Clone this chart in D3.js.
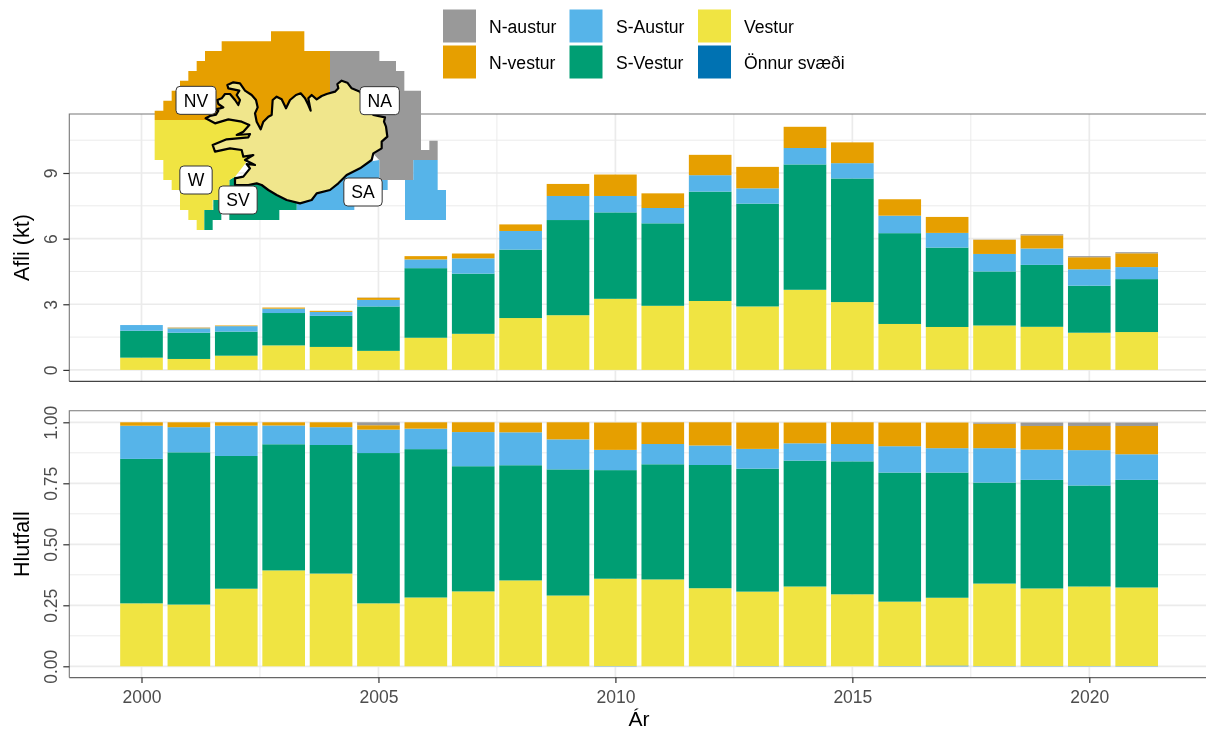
<!DOCTYPE html>
<html><head><meta charset="utf-8">
<script src="https://cdn.jsdelivr.net/npm/d3@7"></script>
<style>html,body{margin:0;padding:0;background:#fff}svg{display:block;filter:blur(0.35px)}text{font-family:"Liberation Sans",Arial,sans-serif}</style>
</head><body><svg id="c" width="1206" height="731"></svg>
<script>
const years = d3.range(2000, 2022);
const regions = ["N-austur","N-vestur","S-Austur","S-Vestur","Vestur","Önnur svæði"];
const colors = ["#999999","#E69F00","#56B4E9","#009E73","#F0E442","#0072B2"];

// Catch (kt)
const kOnnur  = [0,0,0,0,0,0,0,0,0,0,0,0,0,0,0.012,0,0,0.012,0,0,0,0];
const kVestur = [.56,.5,.65,1.12,1.05,.87,1.47,1.65,2.37,2.5,3.25,2.93,3.15,2.9,3.65,3.1,2.1,1.95,2.03,1.97,1.7,1.73];
const kSVestur= [1.23,1.2,1.1,1.48,1.42,2.03,3.18,2.75,3.13,4.35,3.95,3.77,5.0,4.7,5.73,5.65,4.15,3.63,2.47,2.83,2.15,2.42];
const kSAustur= [.26,.2,.25,.2,.18,.3,.4,.7,.85,1.1,.75,.7,.75,.7,.75,.7,.8,.67,.8,.75,.75,.55];
const kNVestur= [0,.03,.03,.05,.05,.1,.15,.22,.3,.55,.98,.67,.93,.98,.97,.95,.75,.73,.65,.6,.55,.63];
const kNAustur= [0,.01,0,0,0,.01,0,0,0,0,0,0,0,0,0,0,0,0,.01,.05,.05,.05];

// Share of total
const pOnnur  = [0,0,0,0,0,0,0,0,.001,0,.001,0,0,.001,.001,0,.001,.003,.001,.001,.001,.001];
const pVestur = [.258,.253,.318,.393,.38,.258,.282,.307,.351,.29,.358,.356,.32,.305,.326,.295,.264,.278,.338,.318,.326,.322];
const pSVestur= [.592,.624,.544,.517,.527,.616,.608,.513,.472,.517,.445,.472,.505,.504,.516,.545,.529,.513,.414,.445,.414,.441];
const pSAustur= [.136,.103,.124,.077,.073,.096,.084,.14,.135,.123,.083,.083,.08,.081,.071,.071,.108,.10,.141,.124,.145,.105];
const pNVestur= [.014,.02,.014,.013,.02,.018,.026,.04,.04,.07,.112,.089,.095,.108,.085,.089,.097,.105,.10,.097,.099,.116];
const pNAustur= [0,0,0,0,0,.012,0,0,0,0,0,0,0,0,0,0,0,0,.005,.014,.014,.014];

const xTicks = [2000,2005,2010,2015,2020];
const xMinor = [2002.5,2007.5,2012.5,2017.5];
const kTicks = [0,3,6,9], kMinor=[1.5,4.5,7.5,10.5];
const pTicks = [0,.25,.5,.75,1], pMinor=[.125,.375,.625,.875];

// Inset map outlines (map units)
const mapNV=[[44,300],[44,272],[70,272],[70,242],[95,242],[95,212],[120,212],[120,182],[145,182],[145,153],[170,153],[170,123],[195,123],[195,93],[245,93],[245,64],[393,64],[393,34],[493,34],[493,93],[570,93],[570,230],[360,340],[330,300]];
const mapNA=[[570,93],[718,93],[718,123],[768,123],[768,153],[793,153],[793,212],[843,212],[843,390],[868,390],[868,362],[893,362],[893,420],[820,420],[820,480],[718,480],[718,420],[600,300],[570,215]];
const mapSA1=[[718,420],[718,480],[743,480],[743,510],[720,510],[720,540],[643,540],[643,570],[470,570],[470,520],[600,440]];
const mapSA2=[[820,420],[893,420],[893,510],[918,510],[918,600],[795,600],[795,480],[820,480]];
const mapSV1=[[268,480],[268,600],[418,600],[418,570],[470,570],[470,530],[360,480],[285,470]];
const mapSV2=[[220,540],[244,540],[244,600],[218,600],[218,630],[193,630],[193,570],[220,570]];
const mapW=[[44,300],[44,420],[70,420],[70,480],[95,480],[95,510],[120,510],[120,570],[145,570],[145,600],[170,600],[170,630],[193,630],[193,570],[218,570],[218,540],[240,540],[268,510],[268,480],[285,470],[340,400],[330,300]];
const coast=[[197,295],[210,288],[228,284],[235,272],[225,268],[240,265],[250,262],[235,252],[232,240],[245,235],[255,222],[270,222],[285,240],[295,255],[300,240],[290,225],[298,212],[280,208],[265,205],[262,195],[280,187],[300,190],[315,212],[335,225],[348,240],[353,262],[345,280],[350,305],[362,328],[370,305],[385,290],[395,285],[398,240],[410,230],[425,238],[438,265],[450,240],[468,225],[482,220],[495,235],[505,255],[512,272],[505,235],[515,225],[530,238],[545,228],[560,222],[585,215],[595,205],[592,192],[605,182],[622,188],[635,205],[660,215],[700,285],[735,292],[732,305],[738,320],[742,350],[725,365],[725,385],[700,400],[695,420],[660,445],[620,465],[595,490],[570,510],[530,520],[515,540],[480,550],[440,540],[410,525],[385,510],[365,495],[350,490],[325,495],[285,495],[285,475],[310,470],[330,445],[320,432],[345,435],[315,420],[340,405],[310,410],[305,390],[270,385],[225,395],[218,375],[260,358],[325,352],[330,342],[290,345],[310,335],[328,315],[305,305],[265,298],[225,310]];
const mapLabels=[["NV",168,241,120],["NA",719,242,118],["W",168,480,97],["SV",294,540,115],["SA",669,516,115]];

const svg=d3.select("#c");
const x=d3.scaleLinear().domain([2000,2020]).range([141.5,1089.3]);
const bw=x(2000.9)-x(2000);
const panelL=69.3, panelR=1206;
const tickFont="17.5px";

function panel(top,bot,y,ticks,minor,fmt,title,rows,bottomStroke,bottomWidth){
  const g=svg.append("g");
  const grid=(vals,w,horizontal)=>g.append("g").selectAll("line").data(vals).join("line")
    .attr("x1",d=>horizontal?panelL:x(d)).attr("x2",d=>horizontal?panelR:x(d))
    .attr("y1",d=>horizontal?y(d):top).attr("y2",d=>horizontal?y(d):bot)
    .attr("stroke","#EBEBEB").attr("stroke-width",w);
  grid(minor,1,true);grid(xMinor,1,false);grid(ticks,1.7,true);grid(xTicks,1.7,false);
  const table=years.map((yr,i)=>{const o={year:yr};regions.forEach((r,j)=>o[r]=rows[j][i]);return o;});
  const stacked=d3.stack().keys(regions.slice().reverse())(table);
  g.append("g").selectAll("g").data(stacked).join("g").attr("fill",d=>colors[regions.indexOf(d.key)])
    .selectAll("rect").data(d=>d).join("rect")
    .attr("x",d=>x(d.data.year)-bw/2).attr("width",bw)
    .attr("y",d=>y(d[1])).attr("height",d=>Math.max(0,y(d[0])-y(d[1])));
  g.append("path").attr("d",`M${panelL},${bot}V${top}H${panelR}`).attr("fill","none").attr("stroke","#777").attr("stroke-width",1.1);
  g.append("line").attr("x1",panelL).attr("x2",panelR).attr("y1",bot).attr("y2",bot).attr("stroke",bottomStroke).attr("stroke-width",bottomWidth);
  const a=g.append("g").attr("transform",`translate(${panelL},0)`).call(d3.axisLeft(y).tickValues(ticks).tickFormat(fmt).tickSize(6));
  a.select(".domain").remove();
  a.selectAll("line").attr("stroke","#333").attr("stroke-width",1.2);
  a.selectAll("text").attr("fill","#4D4D4D").style("font-size",tickFont).attr("text-anchor","middle")
    .attr("x",null).attr("dy",null).attr("y",null)
    .attr("transform","translate(-19,0) rotate(-90)").attr("dy","0.36em");
  svg.append("text").attr("transform",`translate(29,${(top+bot)/2}) rotate(-90)`).attr("text-anchor","middle").style("font-size","21.5px").attr("fill","#000").text(title);
}

panel(114,381.3,d3.scaleLinear().domain([0,9]).range([369.9,173]),kTicks,kMinor,d3.format("d"),"Afli (kt)",[kNAustur,kNVestur,kSAustur,kSVestur,kVestur,kOnnur],"#444",1.3);
panel(410.8,677.6,d3.scaleLinear().domain([0,1]).range([666.3,422.3]),pTicks,pMinor,d3.format(".2f"),"Hlutfall",[pNAustur,pNVestur,pSAustur,pSVestur,pVestur,pOnnur],"#666",1.2);

// X axis
const xa=svg.append("g").attr("transform","translate(0,677.6)").call(d3.axisBottom(x).tickValues(xTicks).tickFormat(d3.format("d")).tickSize(5.5).tickPadding(7));
xa.select(".domain").remove();
xa.selectAll("line").attr("stroke","#333").attr("stroke-width",1.2);
xa.selectAll("text").attr("fill","#4D4D4D").style("font-size",tickFont);
svg.append("text").attr("x",639).attr("y",726).attr("text-anchor","middle").style("font-size","21px").attr("fill","#000").text("Ár");

// Legend
const legendCols=[[0,1],[2,3],[4,5]], legX=[443,569.5,698], legTX=[489,616,744], legY=[9.5,45.5];
legendCols.forEach((col,c)=>col.forEach((idx,r)=>{
  svg.append("rect").attr("x",legX[c]).attr("y",legY[r]).attr("width",33).attr("height",33).attr("fill",colors[idx]);
  svg.append("text").attr("x",legTX[c]).attr("y",legY[r]+17).attr("dy","0.36em").style("font-size","17.6px").attr("fill","#000").text(regions[idx]);
}));

// Inset map
const mx=d3.scaleLinear().domain([0,960]).range([140,460]);
const my=d3.scaleLinear().domain([0,660]).range([20,240]);
const line=d3.line().x(d=>mx(d[0])).y(d=>my(d[1]));
const m=svg.append("g");
[[mapNV,"#E69F00"],[mapNA,"#999999"],[mapSA1,"#56B4E9"],[mapSA2,"#56B4E9"],[mapSV1,"#009E73"],[mapW,"#F0E442"],[mapSV2,"#009E73"]]
  .forEach(([p,c])=>m.append("path").attr("d",line(p)+"Z").attr("fill",c));
m.append("path").attr("d",line(coast)+"Z").attr("fill","#F0E68C").attr("stroke","#000").attr("stroke-width",2.2).attr("stroke-linejoin","round");
mapLabels.forEach(([t,cx,cy,w])=>{
  const W=mx(w)-mx(0),H=my(84)-my(0);
  m.append("rect").attr("x",mx(cx)-W/2).attr("y",my(cy)-H/2).attr("width",W).attr("height",H).attr("rx",4).attr("fill","#fff").attr("stroke","#333").attr("stroke-width",1);
  m.append("text").attr("x",mx(cx)).attr("y",my(cy)).attr("dy","0.36em").attr("text-anchor","middle").style("font-size","17.6px").attr("fill","#000").text(t);
});
</script></body></html>
